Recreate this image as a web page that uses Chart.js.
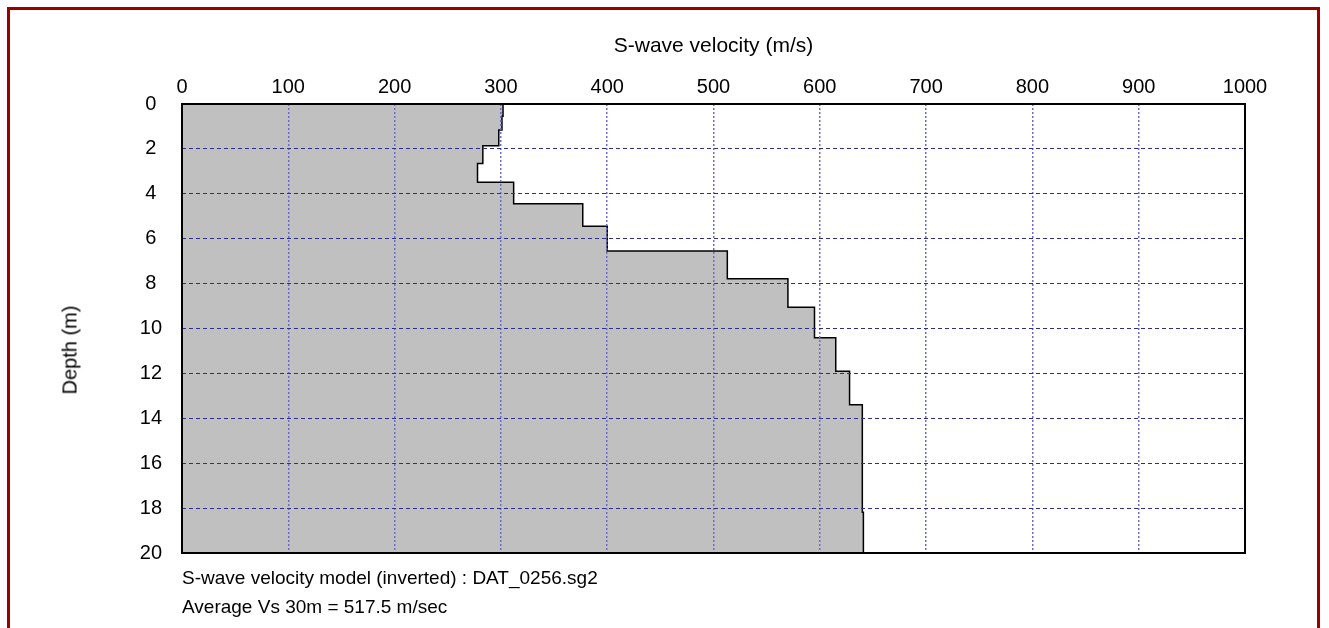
<!DOCTYPE html>
<html>
<head>
<meta charset="utf-8">
<script src="https://cdn.jsdelivr.net/npm/chart.js@4.4.1/dist/chart.umd.min.js"></script>
<style>
    html, body { margin: 0; padding: 0; background: #fff; }
    body { width: 1329px; height: 628px; position: relative; overflow: hidden; font-family: "Liberation Sans", Arial, sans-serif; }
    #frame { position: absolute; left: 7px; top: 7px; width: 1313px; height: 630px; border: 3px solid #990000; box-sizing: border-box; }
    #chartBox { position: absolute; left: 0; top: 0; width: 1329px; height: 628px; }
    .note { position: absolute; left: 182px; font-size: 19px; color: #000; white-space: nowrap; }
    #yTitle { position: absolute; left: 70px; top: 350px; font-size: 20px; color: #000; white-space: nowrap;
              transform: translate(-50%, -50%) rotate(-90deg); }
</style>
</head>
<body>
<div id="frame"></div>
<div id="chartBox"><canvas id="vsChart" width="1329" height="628"></canvas></div>
<div id="yTitle">Depth (m)</div>
<div class="note" style="top:567px">S-wave velocity model (inverted) : DAT_0256.sg2</div>
<div class="note" style="top:596px">Average Vs 30m = 517.5 m/sec</div>
<script>
    // layer tops (m) and S-wave velocity of each layer (m/s)
    const layerTop = [0, 0.55, 1.16, 1.86, 2.65, 3.49, 4.44, 5.45, 6.55, 7.78, 9.05, 10.41, 11.9, 13.4, 18.18];
    const vsLayer = [302, 301, 298, 283, 278, 312, 377, 400, 513, 570, 595, 615, 628, 640, 641];
    const maxDepth = 20;
    const xTicks = [0, 100, 200, 300, 400, 500, 600, 700, 800, 900, 1000];
    const yTicks = [0, 2, 4, 6, 8, 10, 12, 14, 16, 18, 20];

    const profile = layerTop.map((d, i) => ({ x: vsLayer[i], y: d }));
    profile.push({ x: vsLayer[vsLayer.length - 1], y: maxDepth });

    const fontFam = '"Liberation Sans", Arial, sans-serif';

    // black box round the plot area
    const framePlugin = {
        id: 'plotFrame',
        afterDraw(chart) {
            const a = chart.chartArea;
            const ctx = chart.ctx;
            ctx.save();
            ctx.strokeStyle = '#000';
            ctx.lineWidth = 2;
            ctx.strokeRect(a.left, a.top, a.right - a.left, a.bottom - a.top);
            ctx.restore();
        }
    };

    new Chart(document.getElementById('vsChart').getContext('2d'), {
        type: 'line',
        data: {
            datasets: [{
                data: profile,
                borderColor: '#000',
                borderWidth: 1.5,
                backgroundColor: '#c0c0c0',
                fill: 'origin',
                stepped: 'after',
                pointRadius: 0
            }]
        },
        options: {
            indexAxis: 'y',
            responsive: false,
            animation: false,
            layout: { padding: { left: 50, top: 30, right: 84, bottom: 75 } },
            plugins: { legend: { display: false }, tooltip: { enabled: false } },
            scales: {
                x: {
                    type: 'linear',
                    position: 'top',
                    min: 0,
                    max: 1000,
                    afterBuildTicks: s => { s.ticks = xTicks.map(v => ({ value: v })); },
                    afterFit: s => { s.height = 74; },
                    ticks: { color: '#000', font: { family: fontFam, size: 20 }, padding: 5, maxRotation: 0, autoSkip: false,
                             callback: v => String(v) },
                    grid: { color: '#6c6cd0', lineWidth: 1.5, drawTicks: false, z: 1 },
                    border: { display: false, dash: [2, 2] },
                    title: { display: true, text: 'S-wave velocity (m/s)', color: '#000', font: { family: fontFam, size: 21 }, padding: { top: 4, bottom: 6 } }
                },
                y: {
                    type: 'linear',
                    reverse: true,
                    min: 0,
                    max: maxDepth,
                    afterBuildTicks: s => { s.ticks = yTicks.map(v => ({ value: v })); },
                    afterFit: s => { s.width = 132; },
                    ticks: { color: '#000', font: { family: fontFam, size: 20 }, padding: 20, crossAlign: 'center', autoSkip: false,
                             callback: v => String(v) },
                    grid: { color: '#2e2e8c', lineWidth: 1, drawTicks: false, z: 1 },
                    border: { display: false, dash: [4, 3] }
                }
            }
        },
        plugins: [framePlugin]
    });
</script>
</body>
</html>
